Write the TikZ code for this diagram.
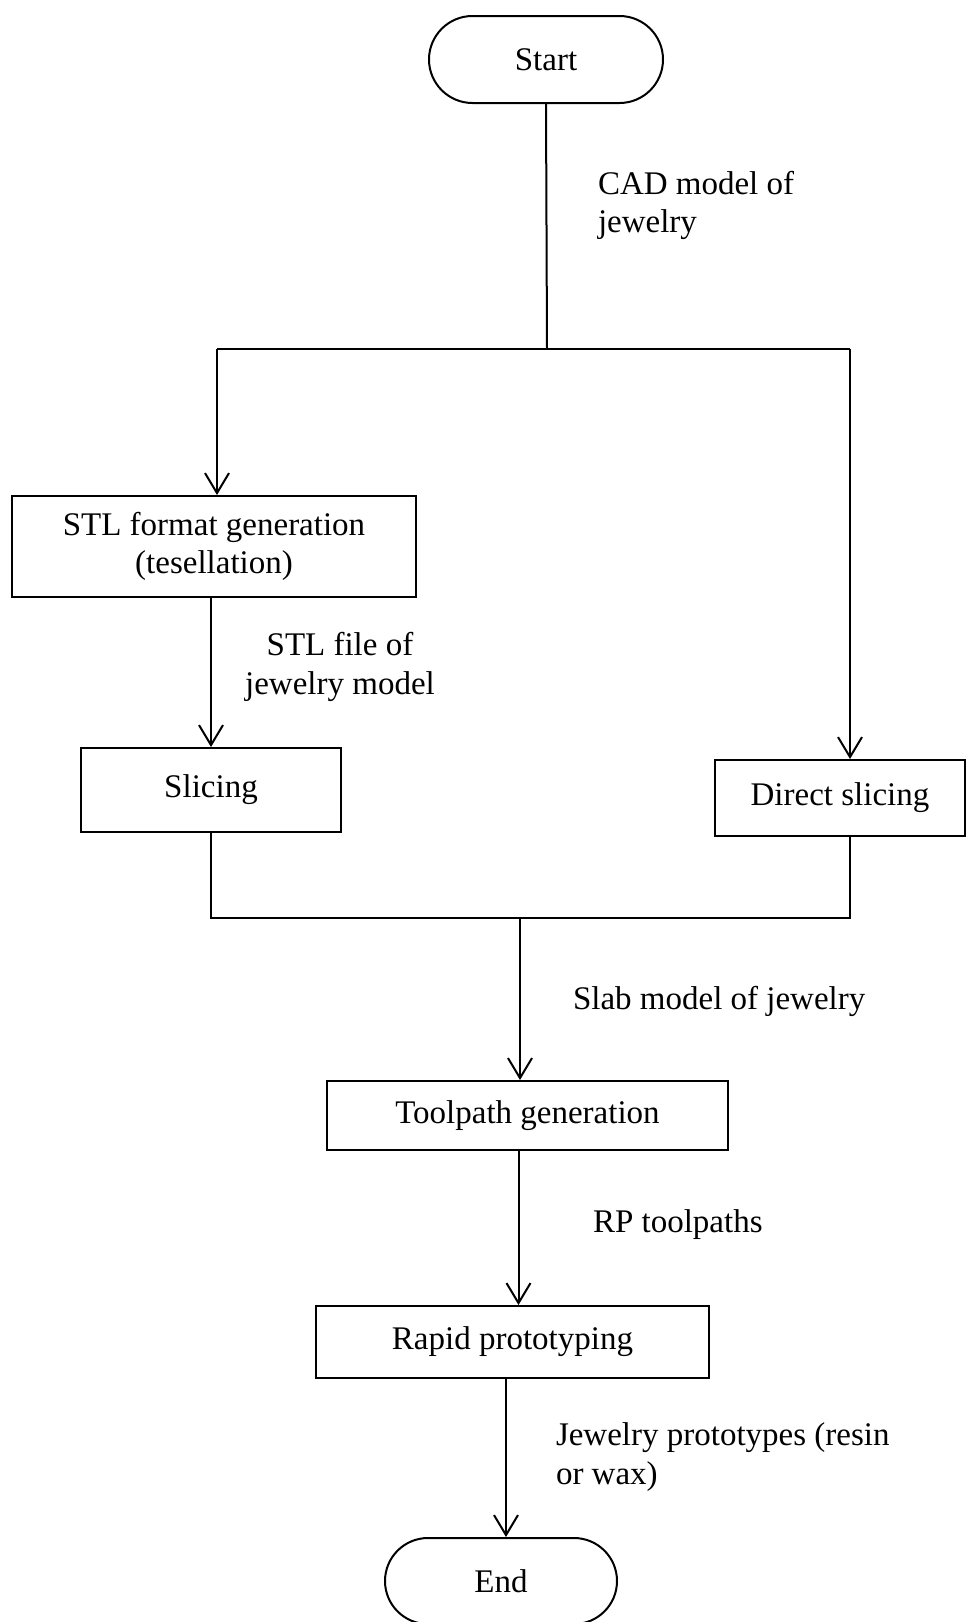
\documentclass[tikz,border=0pt]{standalone}
\usepackage{fontspec}
\setmainfont{Liberation Serif}
\usetikzlibrary{arrows.meta,shapes.misc}
\begin{document}
\begin{tikzpicture}[x=1pt,y=-1pt,
  font=\fontsize{33}{38.5}\selectfont,
  line width=2pt,
  box/.style={draw,rectangle,inner sep=0pt},
  term/.style={draw,rounded rectangle,inner sep=0pt},
  lbl/.style={inner sep=0pt,align=left},
  arr/.style={-{Straight Barb[length=20pt,width=24pt,line width=2pt]}}]
\useasboundingbox (0,0) rectangle (967,1622);
\node[term,minimum width=234pt,minimum height=87pt] (start) at (546,59.5) {Start};
\node[box,minimum width=404pt,minimum height=101pt,align=center] (stl) at (214,546.5) {STL format generation\\(tesellation)};
\node[box,minimum width=260pt,minimum height=84pt] (slice) at (211,790) {Slicing};
\node[box,minimum width=250pt,minimum height=76pt] (direct) at (840,798) {Direct slicing};
\node[box,minimum width=401pt,minimum height=69pt] (tool) at (527.5,1115.5) {Toolpath generation};
\node[box,minimum width=393pt,minimum height=72pt] (rapid) at (512.5,1342) {Rapid prototyping};
\node[term,minimum width=232pt,minimum height=86pt] (end) at (501,1581) {End};
\coordinate (jt) at (547,349);
\coordinate (jl) at (217,349);
\coordinate (jr) at (850,349);
\coordinate (jbr) at (850,918);
\coordinate (jm) at (520,918);
\draw (start.south) -- (jt);
\draw (jl) -- (jr);
\draw[arr] (jl) -- (jl |- stl.north);
\draw[arr] (jr) -- (jr |- direct.north);
\draw[arr] (slice.north |- stl.south) -- (slice.north);
\draw (slice.south) -- (slice.south |- jbr) -- (jbr) -- (jbr |- direct.south);
\draw[arr] (jm) -- (jm |- tool.north);
\draw[arr] ([xshift=-9pt]tool.south) -- ([xshift=-9pt]tool.south |- rapid.north);
\draw[arr] ([xshift=5pt]end.north |- rapid.south) -- ([xshift=5pt]end.north);
\node[lbl,anchor=west] (l1) at (597,205.5) {CAD model of\\jewelry};
\node[lbl,align=center] (l2) at (340,667) {STL file of\\jewelry model};
\node[lbl,anchor=west] (l3) at (572,1001) {Slab model of jewelry};
\node[lbl,anchor=west] (l4) at (592,1225) {RP toolpaths};
\node[lbl,anchor=west] (l5) at (555,1457) {Jewelry prototypes (resin\\or wax)};
\end{tikzpicture}
\end{document}
